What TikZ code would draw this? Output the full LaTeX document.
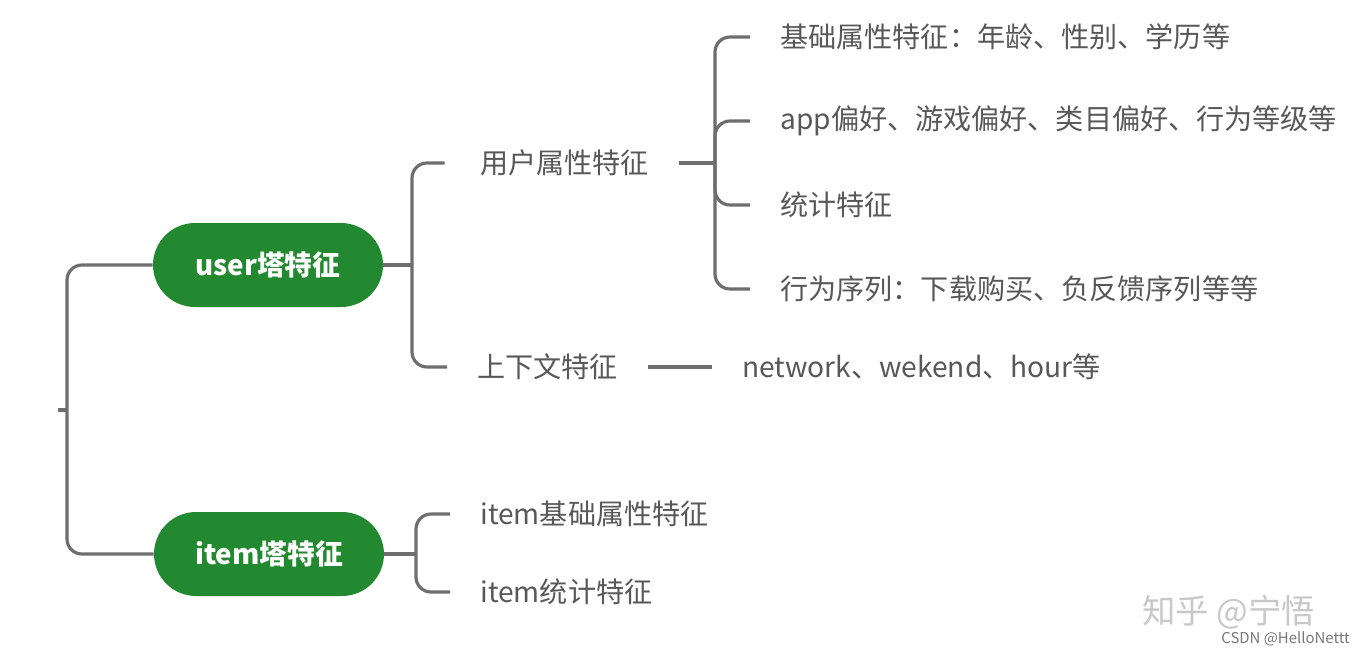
\documentclass[tikz,border=0pt]{standalone}
\usepackage{fontspec}
\setmainfont{Noto Sans CJK SC}
\definecolor{pillgreen}{RGB}{35,137,48}
\definecolor{linegray}{RGB}{110,110,110}
\definecolor{textgray}{RGB}{88,88,88}
\definecolor{wmgray}{RGB}{200,200,200}
\definecolor{csdngray}{RGB}{120,120,120}
\begin{document}
\begin{tikzpicture}[x=0.02cm,y=-0.02cm,
  conn/.style={draw=linegray,line width=1.8pt,rounded corners=0.3cm},
  pill/.style={fill=pillgreen,text=white,font=\fontsize{15.8}{18}\selectfont\bfseries,minimum width=4.6cm,minimum height=1.68cm,rounded corners=0.84cm,inner sep=0pt},
  leaf/.style={text=textgray,font=\fontsize{16}{18}\selectfont,inner xsep=0.6cm,inner ysep=0pt,anchor=west},
  wm/.style={text=wmgray,font=\fontsize{19}{22}\selectfont,inner sep=0pt,anchor=west},
  csdn/.style={text=csdngray,font=\fontsize{8.5}{10}\selectfont,inner sep=0pt,anchor=west}]
\useasboundingbox[fill=white] (0,0) rectangle (1368,650);
% pills
\node[pill] (user) at (268,265) {user塔特征};
\node[pill] (item) at (269,554) {item塔特征};
% leaves
\node[leaf] (uattr) at (450,163) {用户属性特征};
\node[leaf] (ctx) at (447,367) {上下文特征};
\node[leaf] (net) at (712,367) {network、wekend、hour等};
\node[leaf] (r1) at (750,37) {基础属性特征：年龄、性别、学历等};
\node[leaf] (r2) at (750,121) {app偏好、游戏偏好、类目偏好、行为等级等};
\node[leaf] (r3) at (750,205) {统计特征};
\node[leaf] (r4) at (750,289) {行为序列：下载购买、负反馈序列等等};
\node[leaf] (i1) at (450,514) {item基础属性特征};
\node[leaf] (i2) at (450,592) {item统计特征};
% junctions
\coordinate (root) at (58,410);
\coordinate (rj) at (67,410);
\coordinate (uj) at (412,265);
\coordinate (aj) at (715,163);
\coordinate (ij) at (416,554);
% connectors
\draw[conn] (root) -- (rj);
\draw[conn] (rj) |- (user.west);
\draw[conn] (rj) |- (item.west);
\draw[conn] (user.east) -- (uj);
\draw[conn] (uj) |- ([xshift=-3pt]uattr.west);
\draw[conn] (uj) |- (ctx.west);
\draw[conn] (uattr.east) -- (aj);
\draw[conn] (aj) |- (r1.west);
\draw[conn] (aj) |- (r2.west);
\draw[conn] (aj) |- (r3.west);
\draw[conn] (aj) |- (r4.west);
\draw[conn] (ctx.east) -- (net.west);
\draw[conn] (item.east) -- (ij);
\draw[conn] (ij) |- (i1.west);
\draw[conn] (ij) |- (i2.west);
% watermarks
\node[wm] (wm1) at (1142,612) {知乎\ @宁悟};
\node[csdn] (wm2) at (1221,639) {CSDN @HelloNettt};
\end{tikzpicture}
\end{document}
